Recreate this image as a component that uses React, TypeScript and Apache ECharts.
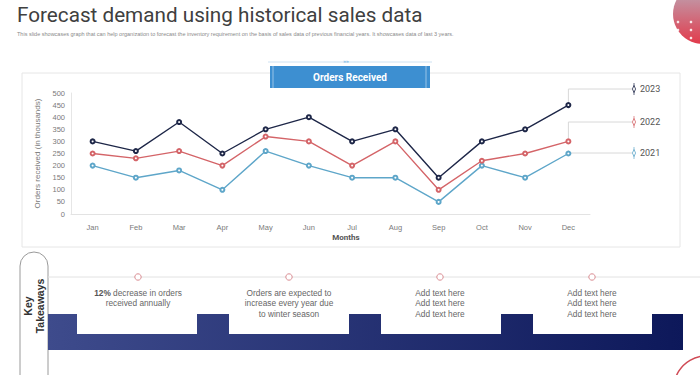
import React, { useEffect, useRef } from "react";
import * as echarts from "echarts";

const months = ["Jan", "Feb", "Mar", "Apr", "May", "Jun", "Jul", "Aug", "Sep", "Oct", "Nov", "Dec"];
const orders2023 = [300, 260, 380, 250, 350, 400, 300, 350, 150, 300, 350, 450];
const orders2022 = [250, 230, 260, 200, 320, 300, 200, 300, 100, 220, 250, 300];
const orders2021 = [200, 150, 180, 100, 260, 200, 150, 150, 50, 200, 150, 250];
const seriesNames = ["2023", "2022", "2021"];
const seriesColors = ["#1e2748", "#d46468", "#5ea6c9"];
const legendYs = [89, 122, 153];
const takeaways = [
  "{b|12%} decrease in orders\nreceived annually",
  "Orders are expected to\nincrease every year due\nto winter season",
  "Add text here\nAdd text here\nAdd text here",
  "Add text here\nAdd text here\nAdd text here",
];
const takeawayXs = [138, 289, 440, 592];

export default function App() {
  const ref = useRef<HTMLDivElement>(null);
  useEffect(() => {
    if (!ref.current) return;
    const chart = echarts.init(ref.current, null, { renderer: "svg" });
    const data = [orders2023, orders2022, orders2021];
    chart.setOption({
      animation: false,
      grid: { left: 71, right: 110, top: 93, bottom: 161 },
      xAxis: {
        type: "category",
        data: months,
        boundaryGap: true,
        axisLine: { lineStyle: { color: "#e3e3e3" } },
        axisTick: { show: false },
        axisLabel: { color: "#7a7a7a", fontSize: 7.5, margin: 9, fontFamily: "Liberation Sans" },
      },
      yAxis: {
        type: "value",
        min: 0,
        max: 500,
        interval: 50,
        name: "Orders received (in thousands)",
        nameLocation: "middle",
        nameGap: 27,
        nameTextStyle: { color: "#7a7a7a", fontSize: 8, fontFamily: "Liberation Sans" },
        axisLine: { show: true, lineStyle: { color: "#e6e6e6" } },
        axisTick: { show: false },
        splitLine: { show: false },
        axisLabel: { color: "#7a7a7a", fontSize: 7.5, margin: 6, fontFamily: "Liberation Sans" },
      },
      series: data.map((d, i) => ({
        name: seriesNames[i],
        type: "line",
        data: d,
        symbol: "emptyCircle",
        symbolSize: 4,
        lineStyle: { width: 1.4, color: seriesColors[i] },
        itemStyle: { color: seriesColors[i], borderWidth: 1 },
        z: 3 - i,
      })),
    });

    const legendEls: any[] = [];
    data.forEach((d, i) => {
      const p = chart.convertToPixel({ seriesIndex: i }, [11, d[11]]) as number[];
      const ly = legendYs[i];
      legendEls.push({
        type: "polyline",
        shape: { points: [[p[0], p[1] - 3], [p[0], ly], [632, ly]] },
        style: { stroke: "#d8d8d8", lineWidth: 1, fill: null },
        z: 1,
      });
      legendEls.push({
        type: "line",
        shape: { x1: 634, y1: ly - 6, x2: 634, y2: ly + 6 },
        style: { stroke: seriesColors[i], lineWidth: 0.7 },
        z: 5,
      });
      legendEls.push({
        type: "polygon",
        shape: { points: [[634, ly - 3.5], [635.6, ly], [634, ly + 3.5], [632.4, ly]] },
        style: { stroke: seriesColors[i], fill: "#fff", lineWidth: 0.8 },
        z: 6,
      });
      legendEls.push({
        type: "text",
        x: 640,
        y: ly,
        style: { text: seriesNames[i], fill: "#555", fontSize: 9, fontFamily: "Roboto", verticalAlign: "middle" },
        z: 5,
      });
    });

    const band = [
      [48, 314], [77, 314], [77, 334], [197, 334], [197, 314], [229, 314], [229, 334], [349, 334], [349, 314],
      [381, 314], [381, 334], [501, 334], [501, 314], [533, 314], [533, 334], [652, 334], [652, 314], [683, 314],
      [683, 350], [48, 350],
    ];

    const staticEls: any[] = [
      {
        type: "text", x: 17, y: 15,
        style: { text: "Forecast demand using historical sales data", fill: "#404040", fontSize: 20.7, fontFamily: "Roboto", verticalAlign: "middle" },
      },
      {
        type: "text", x: 17, y: 34,
        style: {
          text: "This slide showcases graph that can help organization to forecast the inventory requirement on the basis of sales data of previous financial years. It showcases data of last 3 years.",
          fill: "#8a8a8a", fontSize: 5.5, fontFamily: "Liberation Sans", verticalAlign: "middle",
        },
      },
      {
        type: "circle", shape: { cx: 703, cy: 14, r: 30 },
        style: {
          fill: new echarts.graphic.LinearGradient(0, 0, 0, 1, [
            { offset: 0, color: "#b9aebd" },
            { offset: 1, color: "#e23a4b" },
          ]),
        },
      },
      ...[[678, 22], [691, 22], [678, 30], [691, 30], [691, 38]].map((c) => ({
        type: "circle", shape: { cx: c[0], cy: c[1], r: 1.3 }, style: { fill: "rgba(255,255,255,0.85)" },
      })),
      {
        type: "rect", shape: { x: 22, y: 73, width: 658, height: 174 },
        style: { fill: "none", stroke: "#e6e6e6", lineWidth: 1 }, z: -1,
      },
      {
        type: "line", shape: { x1: 268, y1: 62, x2: 432, y2: 62 },
        style: { stroke: "#cfe2f2", lineWidth: 1 },
      },
      {
        type: "text", x: 346, y: 61,
        style: { text: "»»", fill: "#6aaee0", fontSize: 5, align: "center", verticalAlign: "middle" },
      },
      {
        type: "rect", shape: { x: 270, y: 66, width: 160, height: 22 },
        style: { fill: "#3d8fd1" },
      },
      { type: "line", shape: { x1: 273, y1: 66, x2: 273, y2: 88 }, style: { stroke: "rgba(255,255,255,0.6)", lineWidth: 0.8 } },
      { type: "line", shape: { x1: 426, y1: 66, x2: 426, y2: 88 }, style: { stroke: "rgba(255,255,255,0.6)", lineWidth: 0.8 } },
      {
        type: "text", x: 350, y: 77,
        style: { text: "Orders Received", fill: "#fff", fontSize: 10, fontWeight: "bold", fontFamily: "Roboto", align: "center", verticalAlign: "middle" },
      },
      {
        type: "text", x: 346, y: 237,
        style: { text: "Months", fill: "#555", fontSize: 8, fontWeight: "bold", fontFamily: "Roboto", align: "center", verticalAlign: "middle" },
      },
      {
        type: "rect", shape: { x: 20, y: 252, width: 28, height: 140, r: [14, 14, 0, 0] },
        style: { fill: "#fff", stroke: "#9a9a9a", lineWidth: 1 },
      },
      {
        type: "text", x: 34, y: 306, rotation: Math.PI / 2,
        style: { text: "Key\nTakeaways", fill: "#333", fontSize: 10.5, fontWeight: "bold", fontFamily: "Liberation Sans", align: "center", verticalAlign: "middle", lineHeight: 12 },
      },
      {
        type: "line", shape: { x1: 48, y1: 277, x2: 700, y2: 277 },
        style: { stroke: "#e2e2e2", lineWidth: 1 },
      },
      ...takeawayXs.map((x) => ({
        type: "circle", shape: { cx: x, cy: 277, r: 3.2 },
        style: { fill: "#fff", stroke: "#d98a90", lineWidth: 1 },
      })),
      ...takeaways.map((t, i) => ({
        type: "text", x: takeawayXs[i], y: 288,
        style: {
          text: t, fill: "#666", fontSize: 8.3, fontFamily: "Liberation Sans", align: "center", verticalAlign: "top", lineHeight: 10.3,
          rich: { b: { fontWeight: "bold", fill: "#555", fontSize: 8.3, fontFamily: "Liberation Sans" } },
        },
      })),
      {
        type: "polygon", shape: { points: band },
        style: {
          fill: new echarts.graphic.LinearGradient(0, 0, 1, 0, [
            { offset: 0, color: "#3e4b8c" },
            { offset: 1, color: "#0d185a" },
          ]),
        },
      },
      {
        type: "circle", shape: { cx: 706, cy: 388, r: 32 },
        style: { fill: "none", stroke: "#cf4a55", lineWidth: 1.5 },
      },
    ];

    chart.setOption({ graphic: [...staticEls, ...legendEls] });
    return () => chart.dispose();
  }, []);
  return <div ref={ref} style={{ position: "fixed", left: 0, top: 0, width: 700, height: 375, background: "#fff" }} />;
}
